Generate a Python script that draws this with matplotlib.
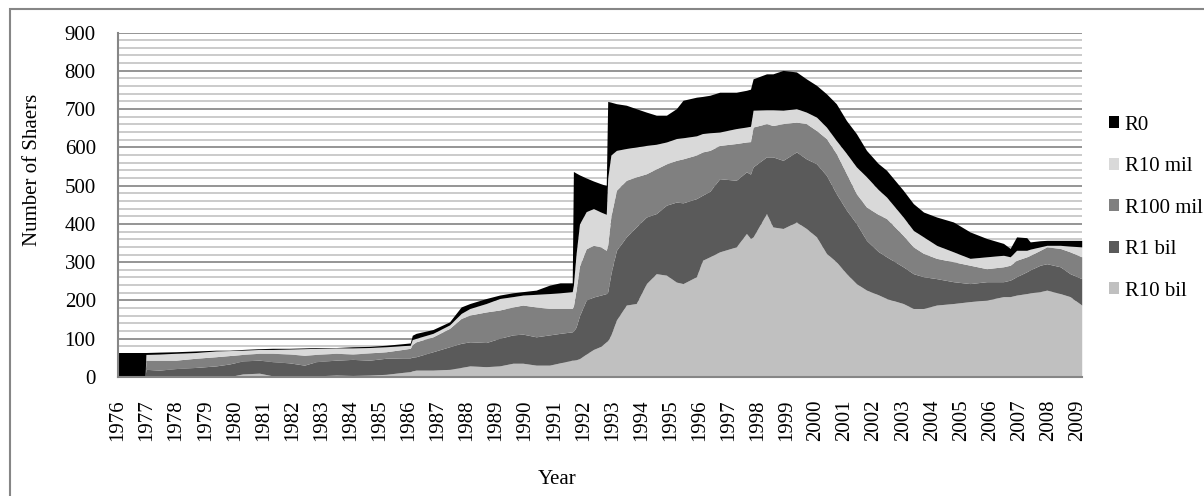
import matplotlib
matplotlib.use('Agg')
import matplotlib.pyplot as plt
from matplotlib.patches import Patch, Rectangle

# time axis (fractional years) and stacked tops
years = [1976.00, 1976.93, 1976.96, 1977.42, 1977.99, 1978.68, 1979.37, 1979.83, 1980.29, 1980.86,
         1981.32, 1981.89, 1982.41, 1982.81, 1983.50, 1984.07, 1984.65, 1985.22, 1985.79, 1986.05,
         1986.12, 1986.25, 1986.83, 1987.40, 1987.80, 1988.10, 1988.66, 1989.12, 1989.58, 1989.92,
         1990.38, 1990.84, 1991.20, 1991.62, 1991.66, 1991.75, 1991.87, 1992.10, 1992.35, 1992.60,
         1992.79, 1992.84, 1992.95, 1993.14, 1993.48, 1993.82, 1994.17, 1994.51, 1994.86, 1995.20,
         1995.43, 1995.89, 1996.10, 1996.35, 1996.69, 1997.26, 1997.61, 1997.75, 1997.84, 1998.30,
         1998.52, 1998.87, 1999.33, 1999.67, 2000.02, 2000.36, 2000.70, 2001.05, 2001.39, 2001.74,
         2002.14, 2002.43, 2003.00, 2003.35, 2003.70, 2004.15, 2004.73, 2005.30, 2005.87, 2006.45,
         2006.68, 2006.90, 2007.25, 2007.37, 2007.71, 2007.94, 2008.40, 2008.74, 2009.14]

top_r10bil = [0, 0, 0, 0, 0, 0, 0, 1, 8, 10,
              3, 1, 1, 3, 5, 4, 5, 7, 12, 14,
              16, 18, 18, 20, 25, 29, 27, 29, 36, 36,
              31, 31, 37, 44, 44, 45, 48, 60, 72, 80,
              92, 95, 110, 149, 188, 192, 244, 270, 266, 248,
              244, 262, 305, 314, 327, 340, 375, 362, 366, 427,
              392, 388, 405, 388, 366, 323, 301, 270, 244, 227,
              215, 205, 192, 179, 179, 188, 192, 197, 201, 210,
              210, 214, 218, 220, 223, 227, 218, 210, 188]

top_r1bil = [0, 0, 20, 18, 22, 25, 29, 34, 42, 44,
             40, 37, 31, 40, 44, 46, 44, 49, 50, 50,
             52, 53, 66, 79, 88, 92, 90, 101, 110, 112,
             105, 110, 114, 118, 120, 130, 160, 201, 209, 214,
             218, 222, 270, 331, 366, 392, 418, 427, 449, 457,
             455, 466, 475, 485, 518, 514, 536, 530, 549, 575,
             575, 566, 588, 570, 557, 527, 479, 436, 401, 357,
             328, 314, 288, 270, 262, 257, 249, 244, 249, 249,
             253, 262, 275, 280, 292, 296, 288, 270, 257]

top_r100mil = [0, 0, 44, 44, 44, 49, 53, 56, 59, 62,
               62, 60, 57, 59, 62, 60, 63, 66, 72, 75,
               85, 92, 105, 127, 153, 162, 170, 175, 183, 188,
               183, 179, 179, 179, 185, 225, 290, 335, 344, 340,
               331, 345, 420, 488, 514, 523, 531, 544, 557, 566,
               570, 580, 588, 592, 605, 610, 614, 615, 653, 662,
               657, 662, 666, 662, 644, 623, 584, 531, 479, 444,
               425, 414, 370, 340, 323, 310, 301, 292, 283, 288,
               292, 305, 314, 318, 331, 340, 336, 327, 314]

top_r10mil = [0, 0, 59, 60, 62, 64, 68, 69, 70, 72,
              72, 73, 74, 75, 76, 76, 77, 79, 82, 83,
              98, 101, 114, 136, 166, 179, 192, 205, 210, 214,
              216, 218, 220, 223, 240, 320, 400, 432, 440, 431,
              425, 520, 580, 592, 597, 601, 605, 608, 614, 623,
              625, 630, 636, 638, 640, 649, 653, 655, 697, 698,
              698, 697, 701, 692, 679, 653, 618, 584, 549, 523,
              490, 470, 418, 383, 366, 344, 327, 310, 314, 318,
              314, 331, 331, 334, 340, 344, 344, 342, 340]

top_r0 = [64, 64, 64, 65, 66, 68, 70, 70, 72, 74,
          75, 75, 76, 77, 77, 79, 80, 83, 87, 89,
          109, 114, 124, 144, 183, 192, 205, 214, 220, 223,
          227, 240, 246, 246, 537, 533, 528, 520, 512, 505,
          500, 720, 718, 714, 710, 701, 692, 684, 684, 701,
          723, 731, 733, 736, 744, 744, 749, 752, 779, 792,
          792, 801, 797, 779, 762, 740, 714, 670, 636, 592,
          558, 540, 488, 453, 431, 418, 405, 379, 362, 349,
          336, 366, 364, 353, 356, 357, 357, 357, 357]

labels = ['R10 bil', 'R1 bil', 'R100 mil', 'R10 mil', 'R0']
colors = ['#c0c0c0', '#5a5a5a', '#808080', '#d9d9d9', '#000000']
tick_years = list(range(1976, 2010))

plt.rcParams['font.family'] = ['Liberation Serif', 'DejaVu Serif']
plt.rcParams['font.size'] = 15

W, H = 1204, 496
fig = plt.figure(figsize=(W / 100, H / 100), dpi=100)
ax = fig.add_axes([118 / W, 1 - 377 / H, (1082 - 118) / W, (377 - 32.5) / H])

# grid: light every 20, darker every 100
for v in range(20, 901, 20):
    if v % 100 == 0:
        ax.axhline(v, color='#8c8c8c', lw=1.3, zorder=0)
    else:
        ax.axhline(v, color='#bdbdbd', lw=1.1, zorder=0)

tops = [top_r10bil, top_r1bil, top_r100mil, top_r10mil, top_r0]
lower = [0] * len(years)
for top, col in zip(tops, colors):
    ax.fill_between(years, lower, top, color=col, lw=0, zorder=2)
    lower = top

ax.set_xlim(1976, 2009.15)
ax.set_ylim(0, 900)
ax.set_yticks(range(0, 901, 100))
ax.set_xticks(tick_years)
ax.set_xticklabels([str(y) for y in tick_years], rotation=90, va='top')
ax.tick_params(axis='both', length=0)
ax.tick_params(axis='y', pad=16)
ax.tick_params(axis='x', pad=16)

for s in ['top', 'right']:
    ax.spines[s].set_visible(False)
for s in ['left', 'bottom']:
    ax.spines[s].set_color('#868686')
    ax.spines[s].set_linewidth(1.5)
    ax.spines[s].set_zorder(3)

fig.text(33 / W, 1 - 170 / H, 'Number of Shaers', rotation=90,
         ha='center', va='center')
fig.text(557 / W, 1 - 480 / H, 'Year', ha='center', va='center')

handles = [Patch(facecolor=c, edgecolor='none', label=l)
           for l, c in zip(labels, colors)][::-1]
fig.legend(handles=handles, loc='center left',
           bbox_to_anchor=(1109 / W, 1 - 208 / H), frameon=False,
           handlelength=0.5, handleheight=0.5, handletextpad=0.25,
           labelspacing=1.08, borderpad=0, borderaxespad=0)

# outer chart border (only left/top edges fall inside the image)
fig.add_artist(Rectangle((10 / W, -0.1), 1.2, 1 - 9 / H + 0.1,
                         transform=fig.transFigure, fill=False,
                         edgecolor='#868686', lw=1.5))

fig.savefig('out.png', dpi=100)
